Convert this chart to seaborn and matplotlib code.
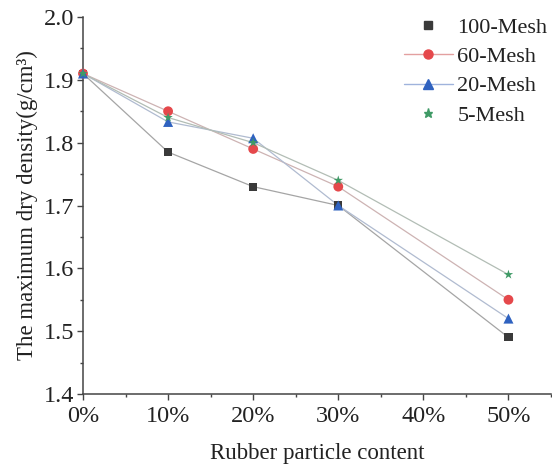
import matplotlib
matplotlib.use("Agg")
import matplotlib.pyplot as plt
from matplotlib.lines import Line2D
from matplotlib.ticker import MultipleLocator
import seaborn as sns
import pandas as pd

# ---- data ----
content = [0, 10, 20, 30, 50]
mesh100 = [1.91, 1.785, 1.73, 1.70, 1.49]
mesh60 = [1.91, 1.85, 1.79, 1.73, 1.55]
mesh20 = [1.91, 1.833, 1.807, 1.70, 1.52]
mesh5 = [1.91, 1.84, 1.80, 1.74, 1.59]
series_names = ["100-Mesh", "60-Mesh", "20-Mesh", "5-Mesh"]
xtick_vals = [0, 10, 20, 30, 40, 50]
xtick_labels = ["0%", "10%", "20%", "30%", "40%", "50%"]
ytick_vals = [1.4, 1.5, 1.6, 1.7, 1.8, 1.9, 2.0]

df = pd.DataFrame({
    "content": content * 4,
    "density": mesh100 + mesh60 + mesh20 + mesh5,
    "series": [s for s in series_names for _ in content],
})

sns.set_style("ticks")
plt.rcParams["font.family"] = ["Liberation Serif", "DejaVu Serif"]

marker_colors = {"100-Mesh": "#3a3a3a", "60-Mesh": "#e5484b",
                 "20-Mesh": "#2f62c0", "5-Mesh": "#3f9a66"}
line_colors = {"100-Mesh": "#a5a5a5", "60-Mesh": "#cdb3b3",
               "20-Mesh": "#b0bbd0", "5-Mesh": "#b2bdb5"}
markers = {"100-Mesh": "s", "60-Mesh": "o", "20-Mesh": "^", "5-Mesh": "*"}
sizes = {"100-Mesh": 34, "60-Mesh": 50, "20-Mesh": 52, "5-Mesh": 50}

fig = plt.figure(figsize=(5.52, 4.68), dpi=100)
ax = fig.add_axes([83 / 552, 1 - 394 / 468, (551 - 83) / 552, 377 / 468])

for name in series_names:
    sub = df[df["series"] == name]
    sns.lineplot(data=sub, x="content", y="density", ax=ax,
                 color=line_colors[name], lw=0.9, legend=False, zorder=2)
for name in series_names:
    sub = df[df["series"] == name]
    sns.scatterplot(data=sub, x="content", y="density", ax=ax,
                    color=marker_colors[name], marker=markers[name],
                    s=sizes[name], edgecolor="none", legend=False,
                    zorder=3, clip_on=False)

ax.set_xlim(0, 55)
ax.set_ylim(1.4, 2.0)
ax.set_xticks(xtick_vals)
ax.set_xticklabels(xtick_labels)
ax.set_yticks(ytick_vals)
ax.set_yticklabels([f"{v:.1f}" for v in ytick_vals])
ax.xaxis.set_minor_locator(MultipleLocator(5))
ax.yaxis.set_minor_locator(MultipleLocator(0.05))
ax.tick_params(which="major", direction="out", length=4.5, width=1.0,
               labelsize=17.5, color="#444444", labelcolor="#222222")
ax.tick_params(axis="x", which="major", pad=4)
ax.tick_params(axis="y", which="major", pad=2)
ax.tick_params(which="minor", direction="out", length=2.5, width=1.0,
               color="#444444")
for sp in ["top", "right"]:
    ax.spines[sp].set_visible(False)
for sp in ["left", "bottom"]:
    ax.spines[sp].set_linewidth(1.1)
    ax.spines[sp].set_color("#444444")

ax.set_xlabel("Rubber particle content", fontsize=16.5, color="#222222",
              labelpad=12)
ax.set_ylabel("The maximum dry density(g/cm³)", fontsize=16.5,
              color="#222222", labelpad=4)

handles = [
    Line2D([], [], ls="none", marker="s", color=marker_colors["100-Mesh"],
           markersize=5.5),
    Line2D([], [], ls="-", lw=1.0, color="#e3a0a0", marker="o",
           markerfacecolor=marker_colors["60-Mesh"],
           markeredgecolor=marker_colors["60-Mesh"], markersize=6.5),
    Line2D([], [], ls="-", lw=1.0, color="#9fb3dc", marker="^",
           markerfacecolor=marker_colors["20-Mesh"],
           markeredgecolor=marker_colors["20-Mesh"], markersize=6.5),
    Line2D([], [], ls="none", marker="*", color=marker_colors["5-Mesh"],
           markersize=6.5),
]
fig.legend(handles, series_names, loc="upper left",
           bbox_to_anchor=(404 / 552, 1 - 17 / 468), frameon=False,
           fontsize=16, handlelength=2.2, handletextpad=0.2,
           labelspacing=0.4, borderpad=0, borderaxespad=0,
           labelcolor="#222222")

fig.savefig("out.png", dpi=100)
